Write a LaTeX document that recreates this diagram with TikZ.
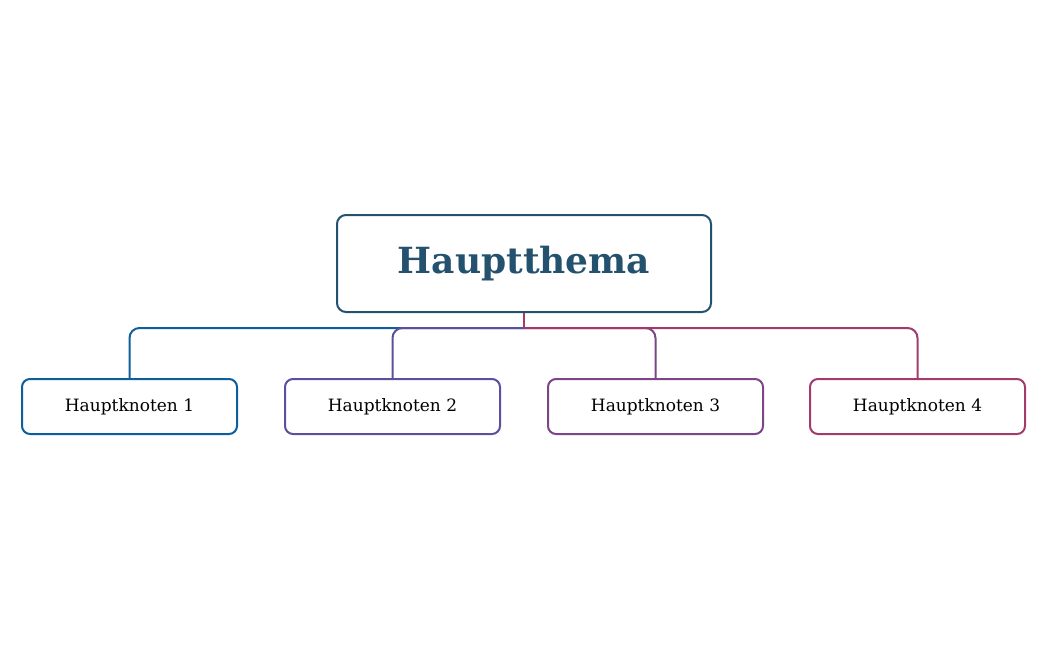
\documentclass[tikz,border=0pt]{standalone}
\usepackage{fontspec}
\setmainfont{DejaVu Serif}
\definecolor{cm}{HTML}{24526E}
\definecolor{ca}{HTML}{0F5E9C}
\definecolor{cb}{HTML}{5C4F9E}
\definecolor{cc}{HTML}{7E4488}
\definecolor{cd}{HTML}{A23B6B}
\begin{document}
\begin{tikzpicture}[x=1pt,y=-1pt,
  box/.style={draw,line width=2pt,rounded corners=8pt,minimum height=55pt,minimum width=215pt,font=\fontsize{17}{20}\selectfont,text=black,inner sep=0pt},
  link/.style={line width=2pt,rounded corners=10pt}]
\useasboundingbox (0,0) rectangle (1048,650);
\node[draw=cm,line width=2pt,rounded corners=9pt,minimum width=374pt,minimum height=97pt,text=cm,font=\bfseries\fontsize{36}{40}\selectfont,inner sep=0pt] (m) at (524,263.5) {Hauptthema};
\node[box,draw=ca] (a) at (129.5,406.5) {Hauptknoten 1};
\node[box,draw=cb] (b) at (392.5,406.5) {Hauptknoten 2};
\node[box,draw=cc] (c) at (655.5,406.5) {Hauptknoten 3};
\node[box,draw=cd] (d) at (917.5,406.5) {Hauptknoten 4};
\coordinate (j) at (524,328);
\draw[link,cd] (m.south) -- (j);
\draw[link,ca] (j) -| (a.north);
\draw[link,cb] (j) -| (b.north);
\draw[link,cc] (j) -| (c.north);
\draw[link,cd] (j) -| (d.north);
\end{tikzpicture}
\end{document}
